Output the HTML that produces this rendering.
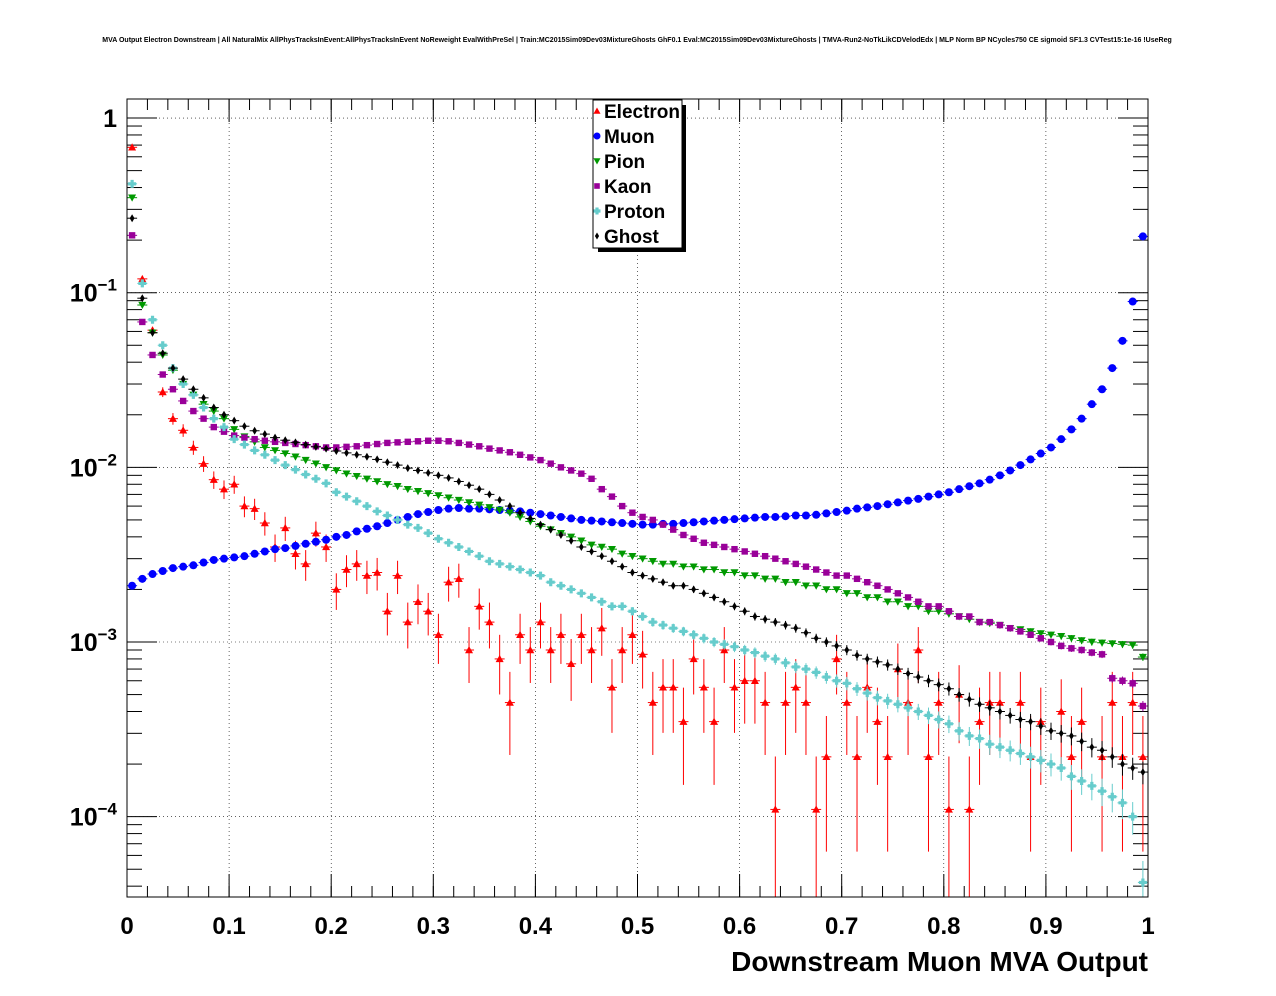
<!DOCTYPE html>
<html><head><meta charset="utf-8"><style>
html,body{margin:0;padding:0;background:#fff;}
svg{display:block;font-family:"Liberation Sans",Arial,sans-serif;}
</style></head><body>
<svg id="c" width="1276" height="996" xmlns="http://www.w3.org/2000/svg">
<rect x="0" y="0" width="1276" height="996" fill="#fff"/>
<text x="637" y="42" font-size="7" font-weight="bold" text-anchor="middle">MVA Output Electron Downstream | All NaturalMix AllPhysTracksInEvent:AllPhysTracksInEvent NoReweight EvalWithPreSel | Train:MC2015Sim09Dev03MixtureGhosts GhF0.1 Eval:MC2015Sim09Dev03MixtureGhosts | TMVA-Run2-NoTkLikCDVelodEdx | MLP Norm BP NCycles750 CE sigmoid SF1.3 CVTest15:1e-16 !UseReg</text>
<g id="grid"></g>
<g id="axes"></g>
<g id="marks"></g>
<rect x="127" y="99" width="1021" height="798" fill="none" stroke="#000" stroke-width="1"/>
<text x="1148" y="971" font-size="28" font-weight="bold" text-anchor="end">Downstream Muon MVA Output</text>
<g id="legend"></g>
</svg>
<script>
const categories = Array.from({length:100},(_,i)=>(i+0.5)/100);
const xTicks = [0,0.1,0.2,0.3,0.4,0.5,0.6,0.7,0.8,0.9,1];
const xTickLabels = ["0","0.1","0.2","0.3","0.4","0.5","0.6","0.7","0.8","0.9","1"];
const yDecades = [0,-1,-2,-3,-4];
const seriesNames = ["Electron","Muon","Pion","Kaon","Proton","Ghost"];
const electron = [.68,.12,.061,.027,.019,.0163,.013,.0105,.0085,.0075,
.008,.006,.0058,.0048,.0035,.0045,.0032,.0028,.0042,.0035,
.002,.0026,.0028,.0024,.0025,.0015,.0024,.0013,.0017,.0015,
.0011,.0022,.0023,.0009,.0016,.0013,.0008,.00045,.0011,.0009,
.0013,.0009,.0011,.00075,.0011,.0009,.0012,.00055,.0009,.0011,
.00085,.00045,.00055,.00055,.00035,.0008,.00055,.00035,.0009,.00055,
.0006,.0006,.00045,.00011,.00045,.00055,.00045,.00011,.00022,.0008,
.00045,.00022,.00055,.00035,.00022,.0007,.00045,.0009,.00022,.00045,
.00011,.0005,.00011,.00035,.00045,.00045,0,.00045,.00022,.00035,
0,.0004,.00022,.00035,0,.00022,.00045,.00022,.00045,.00022];
const muon = [2.1e-3,2.3e-3,2.45e-3,2.55e-3,2.65e-3,2.7e-3,2.75e-3,2.85e-3,2.95e-3,3.0e-3,
3.05e-3,3.1e-3,3.2e-3,3.3e-3,3.4e-3,3.45e-3,3.55e-3,3.65e-3,3.75e-3,3.85e-3,
4.0e-3,4.1e-3,4.3e-3,4.45e-3,4.6e-3,4.8e-3,5.0e-3,5.2e-3,5.4e-3,5.55e-3,
5.7e-3,5.8e-3,5.85e-3,5.8e-3,5.8e-3,5.75e-3,5.7e-3,5.65e-3,5.6e-3,5.5e-3,
5.4e-3,5.3e-3,5.2e-3,5.1e-3,5.0e-3,4.95e-3,4.9e-3,4.85e-3,4.8e-3,4.75e-3,
4.7e-3,4.7e-3,4.75e-3,4.75e-3,4.8e-3,4.85e-3,4.9e-3,4.95e-3,5.0e-3,5.05e-3,
5.1e-3,5.15e-3,5.2e-3,5.2e-3,5.25e-3,5.3e-3,5.3e-3,5.35e-3,5.45e-3,5.55e-3,
5.65e-3,5.8e-3,5.9e-3,6.0e-3,6.15e-3,6.3e-3,6.45e-3,6.6e-3,6.8e-3,7.0e-3,
7.2e-3,7.5e-3,7.8e-3,8.1e-3,8.5e-3,9.0e-3,9.6e-3,0.0103,0.0111,0.0120,
0.0130,0.0145,0.0165,0.019,0.023,0.028,0.037,0.053,0.089,0.21];
const pion = [.35,.085,.059,.044,.036,.030,.026,.023,.021,.019,
.0165,.015,.014,.013,.0125,.012,.0115,.011,.0105,.010,
.0096,.0092,.0089,.0086,.0083,.008,.0078,.0075,.0073,.0071,
.0069,.0067,.0065,.0063,.0061,.0059,.0057,.0055,.0052,.0049,
.0046,.0044,.0042,.004,.0038,.0036,.0035,.0034,.0032,.0031,
.0030,.0029,.0028,.0028,.0027,.0027,.0026,.0026,.0025,.0025,
.0024,.0024,.0023,.0023,.0022,.0022,.0021,.0021,.0020,.0020,
.0019,.0019,.0018,.0018,.0017,.0017,.0016,.0016,.0015,.0015,
.00145,.0014,.00135,.0013,.00128,.00125,.0012,.00118,.00115,.00112,
.0011,.00108,.00105,.00102,.001,.00099,.00098,.00097,.00096,.00082];
const kaon = [.213,.068,.044,.034,.028,.024,.021,.019,.017,.016,
.0152,.0148,.0145,.0142,.014,.0138,.0136,.0134,.0132,.013,
.013,.0131,.0132,.0134,.0136,.0138,.0139,.014,.0141,.0142,
.0142,.0141,.0138,.0135,.0132,.0128,.0125,.0122,.0118,.0114,
.011,.0105,.01,.0096,.0092,.0086,.0075,.0068,.006,.0055,
.0052,.005,.0047,.0044,.0041,.0039,.0037,.0036,.0035,.0034,
.0033,.0032,.0031,.003,.0029,.0028,.0027,.0026,.0025,.0024,
.0024,.0023,.0022,.0021,.002,.0019,.0018,.0017,.0016,.0016,
.0015,.0014,.0014,.0013,.0013,.00125,.0012,.00115,.0011,.00105,
.001,.00095,.00092,.0009,.00087,.00085,.00062,.0006,.00058,.00043];
const proton = [.42,.113,.07,.05,.037,.03,.026,.022,.019,.017,
.0145,.0135,.0125,.0118,.011,.0103,.0097,.0091,.0086,.0081,
.0072,.0068,.0064,.006,.0056,.0053,.005,.0047,.0045,.0042,
.0039,.0037,.0035,.0033,.0031,.0029,.0028,.0027,.0026,.0025,
.0024,.0022,.0021,.002,.0019,.0018,.0017,.0016,.0016,.0015,
.0014,.0013,.00125,.0012,.00115,.0011,.00105,.001,.00097,.00094,
.0009,.00087,.00083,.0008,.00076,.00072,.0007,.00067,.00063,.0006,
.00058,.00054,.00051,.00048,.00046,.00044,.00042,.0004,.00038,.00036,
.00034,.00031,.00029,.00028,.00026,.00025,.00024,.00023,.00022,.00021,
.0002,.00019,.00017,.00016,.00015,.00014,.00013,.00012,.0001,.000042];
const ghost = [.267,.093,.059,.045,.037,.032,.028,.025,.022,.02,
.0185,.0172,.0162,.0155,.0148,.0143,.0139,.0135,.0131,.0128,
.0124,.0121,.0118,.0115,.0111,.0107,.0103,.0099,.0096,.0093,
.009,.0087,.0083,.0079,.0075,.007,.0065,.006,.0055,.0051,
.0047,.0044,.0041,.0038,.0035,.0033,.0031,.0029,.0027,.0025,
.0024,.0023,.0022,.0021,.0021,.002,.0019,.0018,.0017,.0016,
.0015,.0014,.00135,.0013,.00125,.0012,.00113,.00105,.001,.00095,
.0009,.00084,.0008,.00077,.00074,.0007,.00066,.00063,.0006,.00057,
.00054,.0005,.00047,.00044,.00042,.0004,.00038,.00036,.00035,.00033,
.00031,.0003,.00029,.00027,.00025,.00024,.00022,.0002,.00019,.00018];
const seriesData = [electron,muon,pion,kaon,proton,ghost];
const colors = ["#ff0000","#0000ff","#009900","#990099","#66cccc","#000000"];
const shapes = ["tri","circle","tridown","square","cross","diamond"];
const units = [1.12e-4,2e-6,2e-6,2e-6,4.5e-6,4e-6];

const X0=127,X1=1148,Y0=99,Y1=897;
const LMAX=0.109, LMIN=-4.46;
const xs = v => X0 + v*(X1-X0);
const ys = v => { const l=Math.log10(v); return Y0 + (LMAX-l)/(LMAX-LMIN)*(Y1-Y0); };
const NS="http://www.w3.org/2000/svg";
function mk(tag, attrs, parent){ const e=document.createElementNS(NS,tag); for(const k in attrs) e.setAttribute(k,attrs[k]); parent.appendChild(e); return e; }
const grid=document.getElementById('grid'), axes=document.getElementById('axes'), marks=document.getElementById('marks'), legend=document.getElementById('legend');

xTicks.forEach((t,i)=>{
  const x=xs(t);
  if(i>0&&i<xTicks.length-1){ const g=mk('line',{x1:x,x2:x,y1:Y0,y2:Y1,stroke:'#000','stroke-width':0.6,'stroke-dasharray':'1,3'},grid);
  
   }
  mk('line',{x1:x,x2:x,y1:Y1,y2:Y1-23,stroke:'#000'},axes);
  mk('line',{x1:x,x2:x,y1:Y0,y2:Y0+23,stroke:'#000'},axes);
  const tx=mk('text',{x:x,y:934,'font-size':24,'font-weight':'bold','text-anchor':'middle'},axes);
  tx.textContent=xTickLabels[i];
  
  
});
for(let k=0;k<=50;k++){ const x=xs(k/50); mk('line',{x1:x,x2:x,y1:Y1,y2:Y1-11,stroke:'#000'},axes); mk('line',{x1:x,x2:x,y1:Y0,y2:Y0+11,stroke:'#000'},axes); }
yDecades.forEach(d=>{
  const y=ys(Math.pow(10,d));
  const g=mk('line',{x1:X0,x2:X1,y1:y,y2:y,stroke:'#000','stroke-width':0.6,'stroke-dasharray':'1,3'},grid);
  
  
  mk('line',{x1:X0,x2:X0+30,y1:y,y2:y,stroke:'#000'},axes);
  mk('line',{x1:X1,x2:X1-30,y1:y,y2:y,stroke:'#000'},axes);
  const tx=mk('text',{x:117,y:y+9,'font-size':25,'font-weight':'bold','text-anchor':'end'},axes);
  
  
  if(d===0){ tx.textContent='1'; }
  else { const a=document.createElementNS(NS,'tspan'); a.textContent='10'; tx.appendChild(a);
    const b=document.createElementNS(NS,'tspan'); b.setAttribute('dy','-11'); b.setAttribute('font-size','17'); b.textContent='\u2212'+(-d); tx.appendChild(b); }
});
for(let d=-5;d<=0;d++){ for(let m=2;m<=9;m++){ const v=m*Math.pow(10,d); const l=Math.log10(v); if(l>LMAX||l<LMIN) continue; const y=ys(v);
  mk('line',{x1:X0,x2:X0+15,y1:y,y2:y,stroke:'#000'},axes); mk('line',{x1:X1,x2:X1-15,y1:y,y2:y,stroke:'#000'},axes);} }

function marker(shape,x,y,col,parent,s){
  s=s||4;
  if(shape==='tri') return mk('polygon',{points:`${x},${y-s} ${x-s},${y+s*0.8} ${x+s},${y+s*0.8}`,fill:col},parent);
  if(shape==='tridown') return mk('polygon',{points:`${x},${y+s} ${x-s},${y-s*0.8} ${x+s},${y-s*0.8}`,fill:col},parent);
  if(shape==='circle') return mk('circle',{cx:x,cy:y,r:s,fill:col},parent);
  if(shape==='square') return mk('rect',{x:x-s*0.8,y:y-s*0.8,width:s*1.6,height:s*1.6,fill:col},parent);
  if(shape==='cross') return mk('path',{d:`M${x-1.6},${y-s}h3.2v${s-1.6}h${s-1.6}v3.2h${-(s-1.6)}v${s-1.6}h-3.2v${-(s-1.6)}h${-(s-1.6)}v-3.2h${s-1.6}z`,fill:col},parent);
  return mk('polygon',{points:`${x},${y-s} ${x+s*0.6},${y} ${x},${y+s} ${x-s*0.6},${y}`,fill:col},parent);
}

const clipY = y => Math.max(Y0, Math.min(Y1, y));
seriesData.forEach((arr,si)=>{
  const g=mk('g',{},marks);
  
  
  arr.forEach((v,i)=>{
    if(!(v>0)) return;
    const x=xs(categories[i]), y=ys(v);
    const err=Math.sqrt(v*units[si]);
    const yt=clipY(ys(v+err)), yb=(v-err>0)?clipY(ys(v-err)):Y1;
    mk('line',{x1:x,x2:x,y1:yt,y2:yb,stroke:colors[si],'stroke-width':1},g);
    mk('line',{x1:x-5,x2:x+5,y1:y,y2:y,stroke:colors[si],'stroke-width':1},g);
    const m=marker(shapes[si],x,y,colors[si],g);
    
    
  });
});

mk('rect',{x:598,y:105,width:88,height:147,fill:'#000'},legend);
mk('rect',{x:593,y:100,width:89,height:148,fill:'#fff',stroke:'#000','stroke-width':1},legend);
seriesNames.forEach((n,i)=>{
  const y=111+i*25;
  const e=mk('g',{},legend);
  
  
  marker(shapes[i],597,y,colors[i],e,3.5);
  const t=mk('text',{x:604,y:y+7,'font-size':19,'font-weight':'bold'},e);
  t.textContent=n;
});
</script>
</body></html>
